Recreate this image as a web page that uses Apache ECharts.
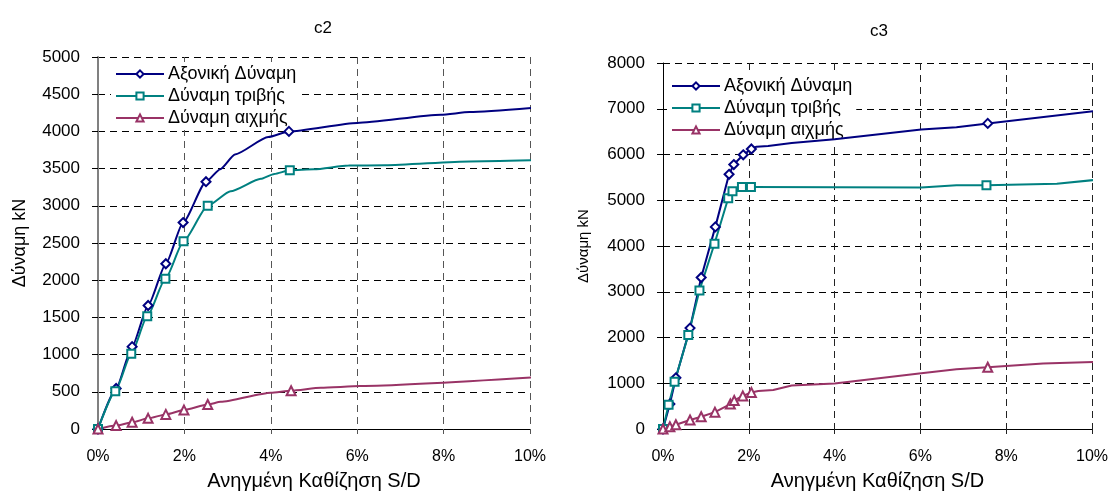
<!DOCTYPE html>
<html>
<head>
<meta charset="utf-8">
<script src="https://cdn.jsdelivr.net/npm/echarts@6/dist/echarts.min.js"></script>
<style>
html,body{margin:0;padding:0;background:#fff;}
#main{width:1111px;height:496px;}
</style>
</head>
<body>
<div id="main"></div>
<script>
// ---- data (settlement S/D in %, force in kN) ----
const seriesNames = ['Αξονική Δύναμη', 'Δύναμη τριβής', 'Δύναμη αιχμής'];
const chartTitles = ['c2', 'c3'];
const xAxisName = 'Ανηγμένη Καθίζηση S/D';
const yAxisName = 'Δύναμη kN';

// c2
const c2AxialX = [0, 0.42, 0.79, 1.16, 1.57, 1.97, 2.50, 2.83, 3.17, 3.94, 4.42, 6.0, 7.94, 8.6, 10.17];
const c2AxialY = [0, 545, 1107, 1660, 2221, 2775, 3324, 3492, 3690, 3925, 4000, 4114, 4224, 4260, 4321];
const c2AxialMarked = [0, 1, 2, 3, 4, 5, 6, 10];

const c2FrictionX = [0, 0.40, 0.77, 1.14, 1.56, 1.98, 2.54, 3.07, 3.77, 4.08, 4.44, 5.0, 5.8, 6.65, 8.6, 10.17];
const c2FrictionY = [0, 507, 1011, 1514, 2019, 2523, 3000, 3194, 3362, 3428, 3477, 3490, 3540, 3545, 3597, 3614];
const c2FrictionMarked = [0, 1, 2, 3, 4, 5, 6, 10];

const c2TipX = [0, 0.42, 0.79, 1.16, 1.57, 1.99, 2.54, 2.84, 4.0, 4.47, 5.16, 6.07, 10.17];
const c2TipY = [0, 46, 90, 143, 196, 254, 329, 365, 488, 515, 555, 577, 696];
const c2TipMarked = [0, 1, 2, 3, 4, 5, 6, 9];

// c3
const c3AxialX = [0, 0.16, 0.30, 0.63, 0.89, 1.22, 1.54, 1.65, 1.87, 2.06, 2.18, 2.45, 3.0, 4.0, 6.02, 6.84, 7.57, 10.19];
const c3AxialY = [0, 545, 1119, 2205, 3311, 4418, 5567, 5780, 5993, 6120, 6171, 6184, 6250, 6331, 6544, 6595, 6680, 6965];
const c3AxialMarked = [0, 1, 2, 3, 4, 5, 6, 7, 8, 9, 16];

const c3FrictionX = [0, 0.13, 0.27, 0.59, 0.85, 1.20, 1.52, 1.62, 1.84, 2.05, 6.02, 6.84, 7.54, 9.18, 10.19];
const c3FrictionY = [0, 532, 1034, 2056, 3028, 4049, 5043, 5199, 5290, 5290, 5278, 5327, 5327, 5363, 5455];
const c3FrictionMarked = [0, 1, 2, 3, 4, 5, 6, 7, 8, 9, 12];

const c3TipX = [0, 0.16, 0.30, 0.63, 0.89, 1.21, 1.57, 1.66, 1.86, 2.06, 2.22, 2.57, 3.0, 4.0, 6.02, 6.84, 7.57, 8.86, 10.19];
const c3TipY = [0, 49, 92, 198, 268, 368, 545, 624, 724, 800, 830, 851, 950, 994, 1221, 1307, 1349, 1432, 1470];
const c3TipMarked = [0, 1, 2, 3, 4, 5, 6, 7, 8, 9, 16];

// axis ticks
const xTicks = [0, 2, 4, 6, 8, 10];
const c2YTicks = [0, 500, 1000, 1500, 2000, 2500, 3000, 3500, 4000, 4500, 5000];
const c3YTicks = [0, 1000, 2000, 3000, 4000, 5000, 6000, 7000, 8000];

// ---- build ----
const FONT = '"Liberation Sans", Arial, sans-serif';
const colors = ['#000080', '#008080', '#993366'];
const symbols = ['emptyDiamond', 'emptyRect', 'emptyTriangle'];
const symbolSizes = [9, 8, 9];

function buildData(xs, ys, marked, sym) {
  return xs.map((x, i) => ({
    value: [x, ys[i]],
    symbol: marked.indexOf(i) >= 0 ? sym : 'none'
  }));
}

const chart = echarts.init(document.getElementById('main'), null, {renderer: 'canvas'});

function makeSeries(gi, xs, ys, marked, k, smooth) {
  return {
    name: seriesNames[k],
    type: 'line',
    xAxisIndex: gi, yAxisIndex: gi,
    data: buildData(xs, ys, marked, symbols[k]),
    symbol: symbols[k],
    symbolSize: symbolSizes[k],
    showAllSymbol: true,
    smooth: smooth,
    smoothMonotone: 'x',
    clip: false,
    z: 3,
    color: colors[k],
    lineStyle: {color: colors[k], width: 2},
    itemStyle: {color: colors[k], borderWidth: 1.6},
    emphasis: {disabled: true},
    animation: false
  };
}

function xAxisCfg(gi, gridColor) {
  return {
    type: 'value', gridIndex: gi, min: xTicks[0], max: xTicks[xTicks.length - 1], interval: xTicks[1] - xTicks[0],
    name: xAxisName, nameLocation: 'middle', nameGap: 42,
    nameTextStyle: {fontFamily: FONT, fontSize: 20, color: '#000'},
    axisLine: {show: true, onZero: false, lineStyle: {color: '#000', width: 1}},
    axisTick: {show: true, inside: false, length: 5, lineStyle: {color: gridColor}},
    axisLabel: {fontFamily: FONT, fontSize: 16, color: '#000', margin: 20, formatter: v => v + '%'},
    splitLine: {show: true, lineStyle: {color: gridColor, type: [7, 5], width: 1}}
  };
}

function yAxisCfg(gi, ticks, axisColor, axisW, nameSize, nameGap) {
  return {
    type: 'value', gridIndex: gi, min: ticks[0], max: ticks[ticks.length - 1], interval: ticks[1] - ticks[0],
    name: yAxisName, nameLocation: 'middle', nameGap: nameGap,
    nameTextStyle: {fontFamily: FONT, fontSize: nameSize, color: '#000'},
    axisLine: {show: true, onZero: false, lineStyle: {color: axisColor, width: axisW}},
    axisTick: {show: true, length: 6, lineStyle: {color: '#000'}},
    axisLabel: {fontFamily: FONT, fontSize: 17, color: '#000', margin: 18, formatter: v => String(v)},
    splitLine: {show: true, lineStyle: {color: '#000', type: [7, 5], width: 1}}
  };
}

function legendCfg(left, top) {
  return {
    data: seriesNames, left: left, top: top, orient: 'vertical',
    itemWidth: 48, itemHeight: 9, itemGap: 4,
    backgroundColor: '#fff', padding: [3, 4, 3, 4],
    z: 1,
    textStyle: {fontFamily: FONT, fontSize: 18, color: '#000', padding: [0, 0, 0, -1]},
    selectedMode: false
  };
}

const option = {
  backgroundColor: '#fff',
  animation: false,
  title: [
    {text: chartTitles[0], left: 318, top: 15, textAlign: 'center', textStyle: {fontFamily: FONT, fontSize: 17, fontWeight: 'normal', color: '#000'}},
    {text: chartTitles[1], left: 874, top: 18, textAlign: 'center', textStyle: {fontFamily: FONT, fontSize: 17, fontWeight: 'normal', color: '#000'}}
  ],
  legend: [legendCfg(111, 62), legendCfg(667, 74)],
  grid: [
    {left: 98, top: 57, width: 432, height: 376, containLabel: false},
    {left: 663, top: 63, width: 431, height: 375, containLabel: false}
  ],
  xAxis: [xAxisCfg(0, '#555'), xAxisCfg(1, '#222')],
  yAxis: [yAxisCfg(0, c2YTicks, '#808080', 2, 18, 69), yAxisCfg(1, c3YTicks, '#000', 1, 15, 72)],
  series: [
    makeSeries(0, c2AxialX, c2AxialY, c2AxialMarked, 0, 0.2),
    makeSeries(0, c2FrictionX, c2FrictionY, c2FrictionMarked, 1, 0.2),
    makeSeries(0, c2TipX, c2TipY, c2TipMarked, 2, 0.2),
    makeSeries(1, c3AxialX, c3AxialY, c3AxialMarked, 0, false),
    makeSeries(1, c3FrictionX, c3FrictionY, c3FrictionMarked, 1, false),
    makeSeries(1, c3TipX, c3TipY, c3TipMarked, 2, false)
  ]
};
chart.setOption(option);
</script>
</body>
</html>
